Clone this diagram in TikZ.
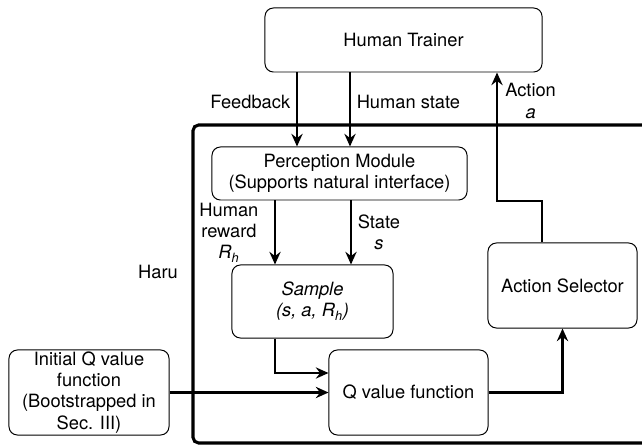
\documentclass[tikz,border=0pt]{standalone}
\usepackage{fontspec}
\setmainfont{TeX Gyre Heros}
\usetikzlibrary{arrows.meta}

\begin{document}
\begin{tikzpicture}[x=0.025cm, y=-0.025cm,
        font=\fontsize{13}{15}\selectfont,
        box/.style={draw, line width=0.7pt, rounded corners=6pt, align=center, inner sep=0pt},
        arr/.style={line width=1.6pt, -{Stealth[length=9pt, width=8pt, inset=3pt]}},
        lbl/.style={align=center, inner sep=0pt}]
    \useasboundingbox (0,0) rectangle (642,445);
    \clip (0,0) rectangle (642,445);
    % Haru frame
    \draw[line width=2.2pt, rounded corners=4pt] (193,125) rectangle (690,443);
    \node[lbl] (haru) at (158,272) {Haru};
    % boxes
    \node[box, minimum width=6.925cm, minimum height=1.6cm] (trainer) at (403.5,40) {Human Trainer};
    \node[box, minimum width=6.375cm, minimum height=1.325cm] (percept) at (339.5,173.5)
        {Perception Module\\(Supports natural interface)};
    \node[box, minimum width=4.025cm, minimum height=1.825cm] (sample) at (312.5,301.5)
        {\textit{Sample}\\\textit{(s, a, R\textsubscript{h})}};
    \node[box, minimum width=3.975cm, minimum height=2.125cm] (qfun) at (408.5,392.5) {Q value function};
    \node[box, minimum width=3.725cm, minimum height=2.125cm] (selector) at (562.5,285.5) {Action Selector};
    \node[box, minimum width=4cm, minimum height=2.125cm] (initq) at (89,392.5)
        {Initial Q value\\function\\(Bootstrapped in\\Sec. III)};
    % trainer to perception
    \draw[arr] (trainer.south -| 297,0) -- (percept.north -| 297,0)
        node[lbl, pos=0.4, left=4pt] (feedback) {Feedback};
    \draw[arr] (trainer.south -| 350,0) -- (percept.north -| 350,0)
        node[lbl, pos=0.4, right=4pt] (hstate) {Human state};
    % perception to sample
    \draw[arr] (percept.south -| 275,0) -- (sample.north -| 275,0)
        node[lbl, midway, left=11pt] (reward) {Human\\reward\\\textit{R\textsubscript{h}}};
    \draw[arr] (percept.south -| 351,0) -- (sample.north -| 351,0)
        node[lbl, midway, right=4pt] (state) {State\\\textit{s}};
    % into the Q value function
    \draw[arr] (sample.south -| 275,0) |- (qfun.west |- 0,373);
    \draw[arr] (initq.east) -- (initq.east -| qfun.west);
    \draw[arr] (qfun.east) -| (selector.south);
    % action back to trainer
    \draw[arr] (selector.north -| 542,0) |- (497,201) -- (trainer.south -| 497,0);
    \node[lbl, anchor=west] (action) at (505,101) {Action\\\textit{a}};
\end{tikzpicture}
\end{document}
